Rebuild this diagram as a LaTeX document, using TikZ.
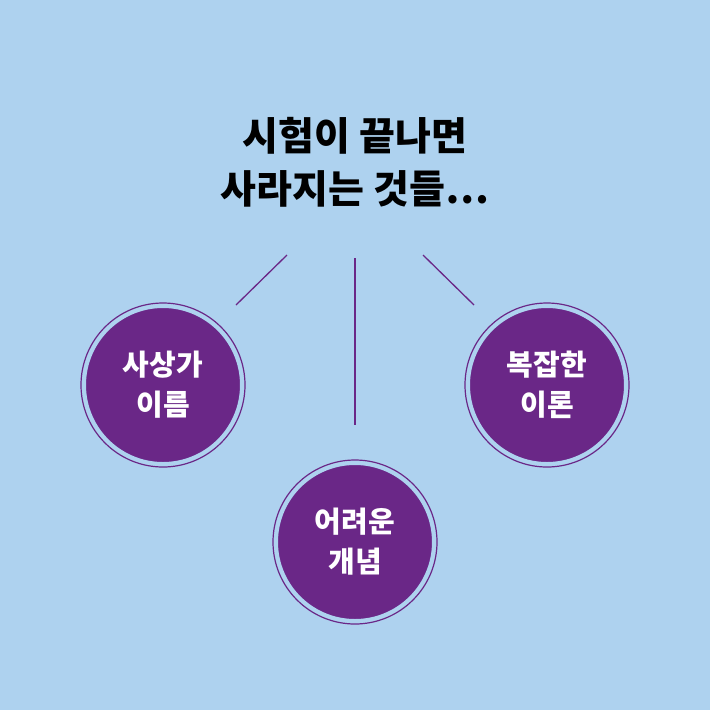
\documentclass[tikz,border=0pt]{standalone}
\usepackage{fontspec}
\newfontfamily\cjk{Noto Sans CJK KR}
\usepackage{xcolor}
\usepackage{tikz}
\definecolor{skyback}{HTML}{AED2EF}
\definecolor{ideapurple}{HTML}{6A2787}

\begin{document}
\begin{tikzpicture}[x=1pt, y=-1pt,
	topic/.style={circle, fill=ideapurple, draw=skyback, line width=2pt, minimum size=156pt, inner sep=0pt, align=center, text=white, font=\cjk\bfseries\fontsize{29}{40}\selectfont},
	ring/.style={circle, draw=ideapurple, line width=1.2pt, minimum size=164pt, inner sep=0pt},
	link/.style={draw=ideapurple, line width=1.3pt}]
	\fill[skyback] (0, 0) rectangle (710, 710);
	\useasboundingbox (0, 0) rectangle (710, 710);
	
	\node[align=center, font=\cjk\bfseries\fontsize{39}{53}\selectfont] (title) at (355, 162) {시험이 끝나면\\사라지는 것들…};
	
	\node[ring] (R1) at (163, 385) {};
	\node[ring] (R2) at (355, 542) {};
	\node[ring] (R3) at (547, 385) {};
	\node[topic] (T1) at (163, 385) {사상가\\이름};
	\node[topic] (T2) at (355, 542) {어려운\\개념};
	\node[topic] (T3) at (547, 385) {복잡한\\이론};
	
	\coordinate (L1a) at (287, 255); \coordinate (L1b) at (236, 305);
	\coordinate (L2a) at (355, 258); \coordinate (L2b) at (355, 425);
	\coordinate (L3a) at (423, 255); \coordinate (L3b) at (474, 305);
	\draw[link] (L1a) -- (L1b);
	\draw[link] (L2a) -- (L2b);
	\draw[link] (L3a) -- (L3b);
\end{tikzpicture}
\end{document}
